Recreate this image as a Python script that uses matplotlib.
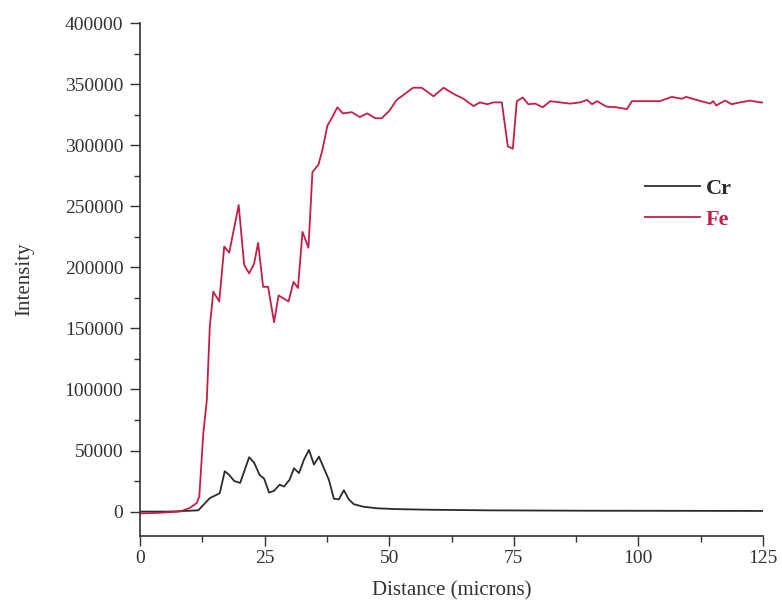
# libraries
import numpy as np
import matplotlib.pyplot as plt
from matplotlib.ticker import MultipleLocator

plt.rcParams['font.family'] = ['Liberation Serif', 'DejaVu Serif']

# Fe profile (distance in microns, intensity)
fe_x = [0, 4, 8, 10, 11.4, 11.9, 12.7, 13.4, 14, 14.7, 15.9, 16.9, 17.9, 19.8, 20.9,
        21.9, 22.9, 23.7, 24.7, 25.7, 26.9, 27.8, 29.8, 30.8, 31.7, 32.6, 33.8, 34.6,
        35.8, 36.6, 37.6, 38.6, 39.6, 40.7, 42.5, 44.1, 45.6, 47.2, 48.5, 50, 51.5,
        54.8, 56.5, 58.9, 60.9, 62.9, 64.9, 66.9, 68.2, 69.7, 70.9, 72.6, 73.8, 74.8,
        75.6, 76.8, 77.9, 79.3, 80.8, 82.3, 84.3, 86.3, 88.3, 89.7, 90.7, 91.7, 93.6,
        95.6, 97.7, 98.7, 101.7, 104.3, 106.7, 108.7, 109.6, 111.7, 114.4, 115, 115.6,
        117.4, 118.7, 120.4, 122.4, 124.4, 125]
fe_y = [-1500, -1000, 0, 3000, 7000, 12500, 64000, 91000, 151000, 180000, 172000,
        217000, 212000, 251000, 202000, 195000, 203000, 220000, 184000, 184000,
        155000, 177000, 172000, 188000, 183000, 229000, 216000, 278000, 284000,
        296000, 316000, 323000, 331000, 326000, 327000, 323000, 326000, 322000,
        322000, 328000, 337000, 347000, 347000, 340000, 347000, 342000, 338000,
        332000, 335000, 333500, 335000, 335000, 299000, 297000, 336000, 339000,
        333500, 334000, 331000, 336000, 335000, 334000, 335000, 337000, 333500,
        336000, 331500, 331000, 329500, 336000, 336000, 336000, 339500, 338000,
        339500, 337000, 334000, 336000, 332500, 336500, 333500, 335000, 336500,
        335000, 335000]

# Cr profile
cr_x = [0, 6, 11.7, 14, 16, 17, 17.9, 18.9, 20.1, 21.9, 22.9, 24, 24.9, 25.9, 26.9,
        28, 28.9, 30, 30.9, 31.9, 32.9, 33.9, 34.9, 35.9, 36.9, 37.9, 38.9, 39.9,
        40.9, 41.9, 42.9, 44.8, 47.5, 51.5, 58.2, 70, 90, 110, 125]
cr_y = [0, 0, 1000, 11000, 15000, 33000, 30000, 25000, 23500, 44500, 40000, 30000,
        27000, 15500, 17000, 22000, 20500, 26000, 35500, 31500, 42500, 50500, 38500,
        45000, 35500, 26000, 10500, 10000, 17500, 10000, 6000, 4000, 2700, 2000,
        1500, 1000, 700, 600, 500]

fig = plt.figure(figsize=(7.82, 6.05), dpi=100)
ax = fig.add_axes([140 / 782, 1 - 536 / 605, 623 / 782, 513 / 605])

ax.plot(cr_x, cr_y, color='#2b2b2b', lw=1.3, label='Cr')
ax.plot(fe_x, fe_y, color='#c41e48', lw=1.3, label='Fe')

ax.set_xlim(0, 125)
ax.set_ylim(-20000, 400000)
ax.xaxis.set_major_locator(MultipleLocator(25))
ax.xaxis.set_minor_locator(MultipleLocator(12.5))
ax.yaxis.set_major_locator(MultipleLocator(50000))
ax.yaxis.set_minor_locator(MultipleLocator(25000))

for side in ['top', 'right']:
    ax.spines[side].set_visible(False)
for side in ['left', 'bottom']:
    ax.spines[side].set_color('#333333')
    ax.spines[side].set_linewidth(1.2)

ax.tick_params(which='major', length=7, width=1, color='#333333',
               labelsize=14, labelcolor='#333333', pad=5)
ax.tick_params(axis='x', which='major', pad=3)
ax.tick_params(which='minor', length=4, width=1, color='#333333')

ax.set_xlabel('Distance (microns)', fontsize=15, color='#333333', labelpad=10)
ax.set_ylabel('Intensity', fontsize=15, color='#333333', labelpad=22)

leg = ax.legend(loc='center left', bbox_to_anchor=(0.81, 0.647), frameon=False,
                borderpad=0, borderaxespad=0,
                handlelength=2.5, handletextpad=0.25, labelspacing=0.45,
                prop={'size': 16, 'weight': 'bold'})
for text, line in zip(leg.get_texts(), leg.get_lines()):
    text.set_color(line.get_color())

fig.savefig('out.png', dpi=100)
